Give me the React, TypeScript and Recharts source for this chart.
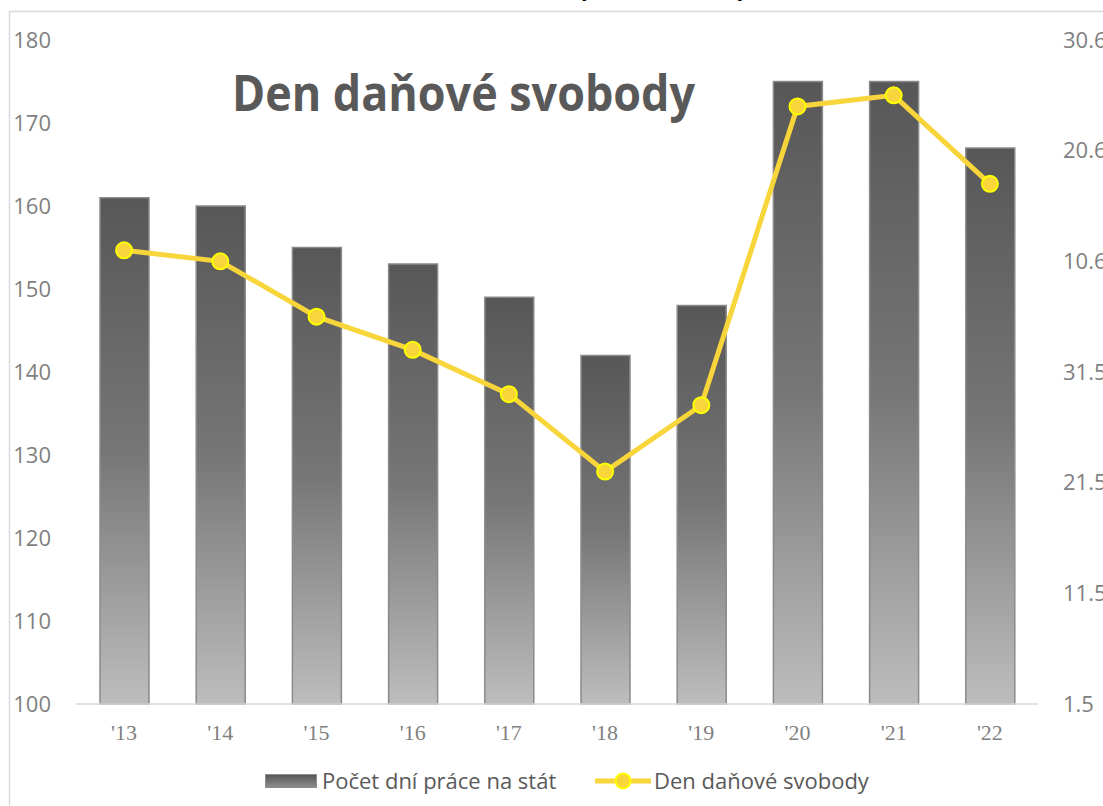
import React from "react";
import { ComposedChart, Bar, Line, XAxis, YAxis, Legend } from "recharts";

const years = ["'13", "'14", "'15", "'16", "'17", "'18", "'19", "'20", "'21", "'22"];
const workDays = [161, 160, 155, 153, 149, 142, 148, 175, 175, 167];
const freedomDayOfYear = [162, 161, 156, 153, 149, 142, 148, 175, 176, 168];
const leftTicks = [100, 110, 120, 130, 140, 150, 160, 170, 180];
const rightTicks = [121, 131, 141, 151, 161, 171, 181];

const barName = "Počet dní práce na stát";
const lineName = "Den daňové svobody";
const chartTitle = "Den daňové svobody";
const cutTitle = "(2013 – 2022)";

const data = years.map((y, i) => ({ year: y, days: workDays[i], freedom: freedomDayOfYear[i] }));

const fmtDate = (v: number) => {
  const d = new Date(2013, 0, v);
  return `${d.getDate()}.${d.getMonth() + 1}`;
};

const SANS = "'Open Sans', 'Noto Sans', sans-serif";

const LegendContent = () => (
  <div style={{ position: "relative", width: 1103, height: 62, fontFamily: SANS, fontSize: 22, color: "#595959" }}>
    <div style={{ position: "absolute", left: 265, top: 30, width: 52, height: 14, boxSizing: "border-box", border: "1px solid #8c8c8c", background: "linear-gradient(to bottom, #585858, #8c8c8c)" }} />
    <div style={{ position: "absolute", left: 322, top: 21, lineHeight: "30px", whiteSpace: "nowrap" }}>{barName}</div>
    <svg style={{ position: "absolute", left: 594, top: 27 }} width={58} height={20}>
      <line x1={1} y1={10} x2={57} y2={10} stroke="#F8D53A" strokeWidth={5} />
      <circle cx={29} cy={10} r={7.5} fill="#F8D53A" stroke="#FFFF00" strokeWidth={2} />
    </svg>
    <div style={{ position: "absolute", left: 654, top: 21, lineHeight: "30px", whiteSpace: "nowrap" }}>{lineName}</div>
  </div>
);

export default function App() {
  return (
    <div style={{ width: 1103, height: 806 }}>
      <style>{`body{margin:0;background:#fff}`}</style>
      <ComposedChart width={1103} height={806} data={data} margin={{ top: 40, right: 0, left: 0, bottom: 0 }}>
        <defs>
          <linearGradient id="barGrad" x1="0" y1="0" x2="0" y2="1">
            <stop offset="0%" stopColor="#575757" />
            <stop offset="50%" stopColor="#767676" />
            <stop offset="100%" stopColor="#bdbdbd" />
          </linearGradient>
        </defs>
        <path d="M9.5 900 V11.5 H1200" stroke="#d9d9d9" strokeWidth={1.5} fill="none" />
        <text x={662} y={-3} textAnchor="middle" fontSize={28} fontWeight="bold" fill="#000" fontFamily={SANS} textLength={168} lengthAdjust="spacingAndGlyphs">{cutTitle}</text>
        <XAxis
          dataKey="year"
          height={40}
          axisLine={{ stroke: "#d9d9d9", strokeWidth: 1.5 }}
          tickLine={false}
          tickSize={0}
          tickMargin={20}
          tick={{ fill: "#7f7f7f", fontSize: 22, fontFamily: "'Liberation Serif', serif" }}
        />
        <YAxis
          yAxisId="left"
          orientation="left"
          width={76}
          domain={[100, 180]}
          ticks={leftTicks}
          axisLine={false}
          tickLine={false}
          tickSize={0}
          tickMargin={25}
          tick={{ fill: "#7f7f7f", fontSize: 22, fontFamily: SANS }}
        />
        <YAxis
          yAxisId="right"
          orientation="right"
          width={65}
          domain={[121, 181]}
          ticks={rightTicks}
          tickFormatter={fmtDate}
          axisLine={false}
          tickLine={false}
          tickSize={0}
          tickMargin={25}
          tick={{ fill: "#7f7f7f", fontSize: 22, fontFamily: SANS }}
        />
        <Bar yAxisId="left" dataKey="days" name={barName} fill="url(#barGrad)" stroke="#8a8a8a" strokeWidth={1.5} barSize={49} isAnimationActive={false} />
        <Line
          yAxisId="right"
          dataKey="freedom"
          name={lineName}
          stroke="#F8D53A"
          strokeWidth={5}
          dot={{ r: 8, fill: "#F8D53A", stroke: "#FFFF00", strokeWidth: 2 }}
          isAnimationActive={false}
        />
        <text x={463.5} y={111} textAnchor="middle" fontSize={50} fontWeight="bold" fill="#595959" fontFamily={SANS} textLength={463} lengthAdjust="spacingAndGlyphs">{chartTitle}</text>
        <Legend verticalAlign="bottom" height={62} content={<LegendContent />} wrapperStyle={{ height: 62 }} />
      </ComposedChart>
    </div>
  );
}
